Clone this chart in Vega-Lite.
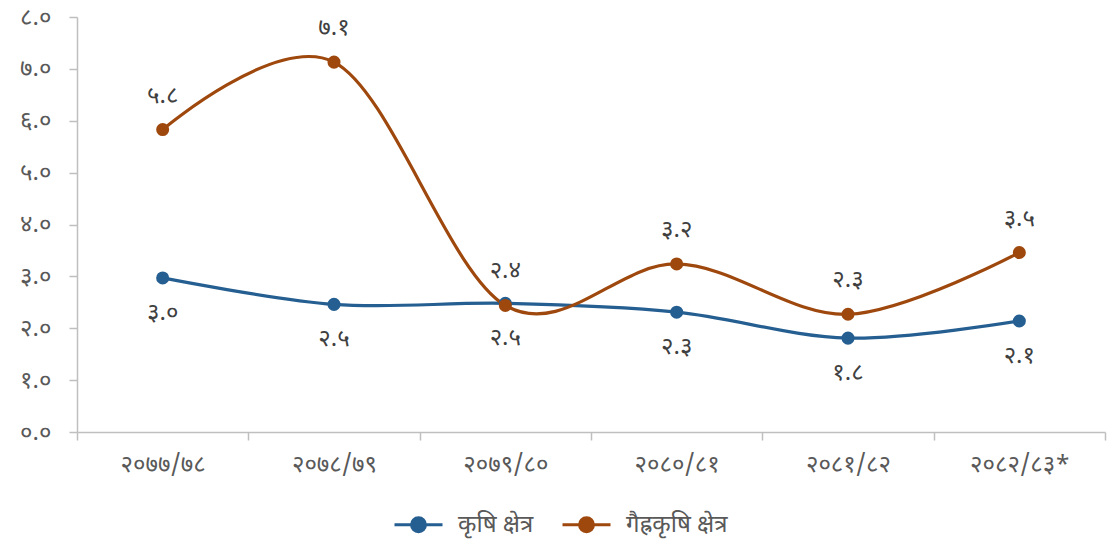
{
  "$schema": "https://vega.github.io/schema/vega-lite/v6.json",
  "width": 1028,
  "height": 415,
  "autosize": "none",
  "padding": {"left": 77, "top": 17, "right": 7, "bottom": 114},
  "background": "white",
  "config": {
    "view": {"stroke": null},
    "font": "Noto Sans Devanagari, Noto Sans",
    "locale": {
      "number": {
        "decimal": ".",
        "thousands": ",",
        "grouping": [3],
        "currency": ["", ""],
        "numerals": ["०", "१", "२", "३", "४", "५", "६", "७", "८", "९"]
      }
    }
  },
  "data": {
    "values": [
      {"year": "२०७७/७८", "series": "कृषि क्षेत्र", "value": 2.97},
      {"year": "२०७८/७९", "series": "कृषि क्षेत्र", "value": 2.46},
      {"year": "२०७९/८०", "series": "कृषि क्षेत्र", "value": 2.48},
      {"year": "२०८०/८१", "series": "कृषि क्षेत्र", "value": 2.31},
      {"year": "२०८१/८२", "series": "कृषि क्षेत्र", "value": 1.81},
      {"year": "२०८२/८३*", "series": "कृषि क्षेत्र", "value": 2.14},
      {"year": "२०७७/७८", "series": "गैह्रकृषि क्षेत्र", "value": 5.83},
      {"year": "२०७८/७९", "series": "गैह्रकृषि क्षेत्र", "value": 7.13},
      {"year": "२०७९/८०", "series": "गैह्रकृषि क्षेत्र", "value": 2.44},
      {"year": "२०८०/८१", "series": "गैह्रकृषि क्षेत्र", "value": 3.24},
      {"year": "२०८१/८२", "series": "गैह्रकृषि क्षेत्र", "value": 2.27},
      {"year": "२०८२/८३*", "series": "गैह्रकृषि क्षेत्र", "value": 3.46}
    ]
  },
  "encoding": {
    "x": {
      "field": "year",
      "type": "nominal",
      "sort": null,
      "scale": {"type": "band", "paddingInner": 0, "paddingOuter": 0},
      "axis": {
        "title": null,
        "labelAngle": 0,
        "tickBand": "extent",
        "tickSize": 8,
        "labelPadding": 12,
        "labelFontSize": 24,
        "labelColor": "#595959",
        "domainColor": "#bfbfbf",
        "tickColor": "#bfbfbf",
        "domainWidth": 1.5,
        "tickWidth": 1.5
      }
    },
    "y": {
      "field": "value",
      "type": "quantitative",
      "scale": {"domain": [0, 8], "nice": false},
      "axis": {
        "title": null,
        "values": [0, 1, 2, 3, 4, 5, 6, 7, 8],
        "format": ".1f",
        "grid": false,
        "tickSize": 8,
        "labelPadding": 18,
        "labelFontSize": 24,
        "labelColor": "#595959",
        "domainColor": "#bfbfbf",
        "tickColor": "#bfbfbf",
        "domainWidth": 1.5,
        "tickWidth": 1.5
      }
    },
    "color": {
      "field": "series",
      "type": "nominal",
      "scale": {
        "domain": ["कृषि क्षेत्र", "गैह्रकृषि क्षेत्र"],
        "range": ["#255E91", "#9E480E"]
      },
      "legend": {
        "title": null,
        "orient": "none",
        "direction": "horizontal",
        "legendX": 316,
        "legendY": 482,
        "symbolType": "M-1,0L1,0M0.29,0A0.29,0.29,0,1,1,-0.29,0A0.29,0.29,0,1,1,0.29,0Z",
        "symbolSize": 2304,
        "symbolStrokeWidth": 3,
        "labelFontSize": 24,
        "labelColor": "#595959",
        "labelOffset": 14,
        "columnPadding": 22
      }
    }
  },
  "layer": [
    {
      "mark": {"type": "line", "interpolate": "cardinal", "strokeWidth": 3.2}
    },
    {
      "mark": {"type": "point", "filled": true, "size": 170, "opacity": 1}
    },
    {
      "transform": [{"filter": "datum.series === 'कृषि क्षेत्र'"}],
      "mark": {"type": "text", "dy": 35, "fontSize": 24},
      "encoding": {
        "text": {"field": "value", "type": "quantitative", "format": ".1f"},
        "color": {"value": "#404040"}
      }
    },
    {
      "transform": [{"filter": "datum.series !== 'कृषि क्षेत्र'"}],
      "mark": {"type": "text", "dy": -34, "fontSize": 24},
      "encoding": {
        "text": {"field": "value", "type": "quantitative", "format": ".1f"},
        "color": {"value": "#404040"}
      }
    }
  ]
}
